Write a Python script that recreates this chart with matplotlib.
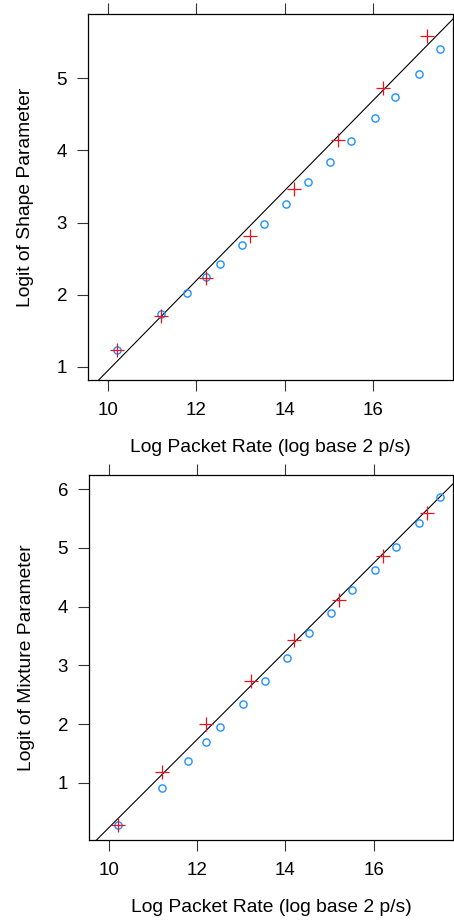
import matplotlib
matplotlib.use("Agg")
import matplotlib.pyplot as plt

plt.rcParams['font.family'] = ['Liberation Sans', 'DejaVu Sans']

# Log packet rate (log base 2 p/s)
x_circle = [10.21, 11.21, 11.79, 12.21, 12.53, 13.03, 13.53, 14.03,
            14.53, 15.03, 15.50, 16.03, 16.50, 17.03, 17.50]
x_cross = [10.21, 11.21, 12.21, 13.22, 14.20, 15.21, 16.22, 17.21]

# Logit of shape parameter
shape_circle = [1.23, 1.73, 2.03, 2.24, 2.42, 2.69, 2.98, 3.26,
                3.56, 3.84, 4.13, 4.44, 4.74, 5.06, 5.40]
shape_cross = [1.23, 1.70, 2.23, 2.82, 3.47, 4.14, 4.86, 5.58]
shape_fit = (-5.29, 0.624)  # intercept, slope

# Logit of mixture parameter
mix_circle = [0.29, 0.91, 1.37, 1.70, 1.95, 2.34, 2.74, 3.12,
              3.55, 3.90, 4.29, 4.63, 5.02, 5.42, 5.86]
mix_cross = [0.29, 1.19, 2.00, 2.74, 3.43, 4.12, 4.87, 5.60]
mix_fit = (-7.26, 0.750)

x_ticks = [10, 12, 14, 16]
xlabel = 'Log Packet Rate (log base 2 p/s)'

W, H = 454, 921
fig = plt.figure(figsize=(W / 100, H / 100), dpi=100)


def panel(left, right, top, bottom, ylim, yticks, yc, yx, fit, ylabel):
    ax = fig.add_axes([left / W, 1 - bottom / H, (right - left) / W, (bottom - top) / H])
    ax.axline((0, fit[0]), slope=fit[1], color='black', lw=0.8, zorder=1)
    ax.plot(x_circle, yc, 'o', ms=5.2, mfc='none', mec='#1e90ff', mew=1.0, zorder=2)
    ax.plot(x_cross, yx, '+', ms=10, mec='#e8141c', mew=0.9, zorder=3)
    ax.set_xlim(9.55, 17.8)
    ax.set_ylim(*ylim)
    ax.set_xticks(x_ticks)
    ax.set_yticks(yticks)
    ax.tick_params(axis='x', top=True, labeltop=False, direction='out',
                   length=8, width=0.8, color='#333333', labelsize=13.5, pad=8)
    ax.tick_params(axis='y', right=False, direction='out',
                   length=8, width=0.8, color='#333333', labelsize=13.5, pad=7)
    for s in ax.spines.values():
        s.set_linewidth(0.9)
    ax.set_xlabel(xlabel, fontsize=13.9, labelpad=14)
    ax.set_ylabel(ylabel, fontsize=13.9, labelpad=16)
    return ax


panel(88, 453, 14, 380, (0.82, 5.886), [1, 2, 3, 4, 5],
      shape_circle, shape_cross, shape_fit, 'Logit of Shape Parameter')
panel(89, 453, 475, 840, (0.03, 6.24), [1, 2, 3, 4, 5, 6],
      mix_circle, mix_cross, mix_fit, 'Logit of Mixture Parameter')

fig.savefig('out.png', dpi=100)
